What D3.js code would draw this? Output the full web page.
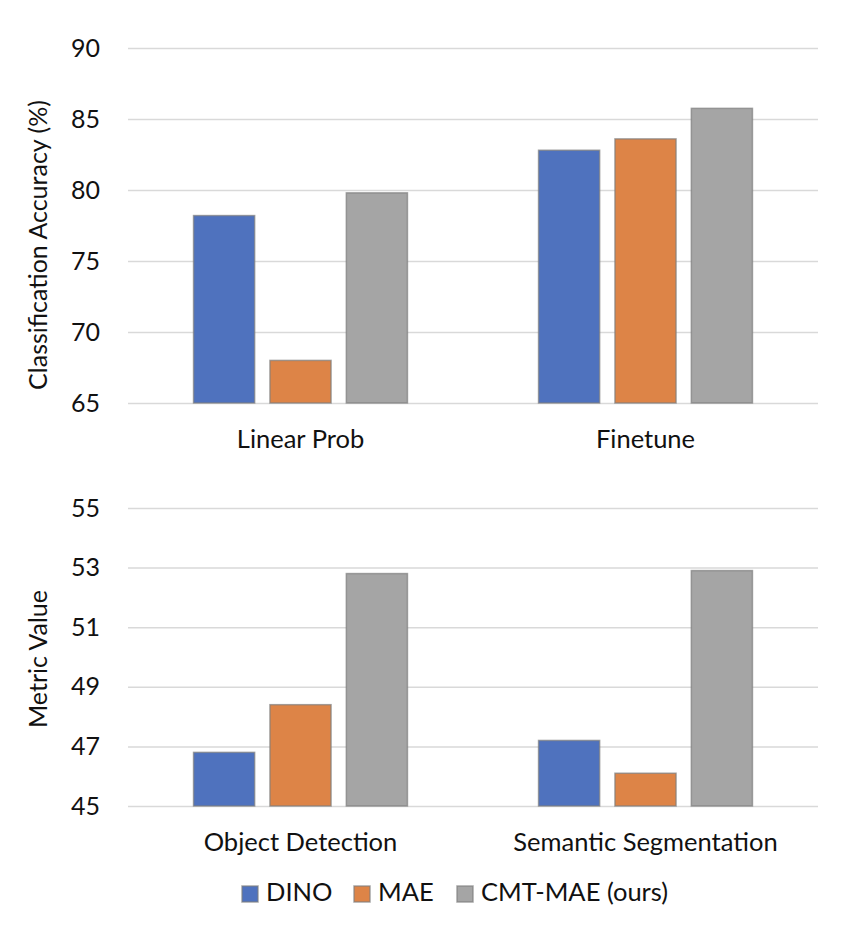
<!DOCTYPE html>
<html>
<head>
<meta charset="utf-8">
<script src="https://cdn.jsdelivr.net/npm/d3@7"></script>
<style>
  body { margin: 0; background: #fff; }
  text { font-family: Lato, "Open Sans", sans-serif; fill: #111; }
</style>
</head>
<body>
<script>
// data
var series = ['DINO', 'MAE', 'CMT-MAE (ours)'];
var colors = ['#4f72be', '#dd8447', '#a5a5a5'];

var topCats = ['Linear Prob', 'Finetune'];
var topDino = [78.2, 82.8];
var topMae = [68.0, 83.6];
var topCmt = [79.8, 85.75];
var topTicks = [65, 70, 75, 80, 85, 90];

var botCats = ['Object Detection', 'Semantic Segmentation'];
var botDino = [46.8, 47.2];
var botMae = [48.4, 46.1];
var botCmt = [52.8, 52.9];
var botTicks = [45, 47, 49, 51, 53, 55];

var svg = d3.select('body').append('svg').attr('width', 848).attr('height', 928)

function drawPanel(cats, vals, ticks, top, bottom, title, titleY) {
  var left = 128, right = 818;
  var y = d3.scaleLinear().domain([ticks[0], ticks[ticks.length - 1]]).range([bottom, top])
  var x0 = d3.scaleBand().domain(cats).range([left, right]).paddingInner(0.38).paddingOuter(0.19)
  var x1 = d3.scaleBand().domain(series).range([0, x0.bandwidth()]).paddingInner(0.2)

  var g = svg.append('g')

  // gridlines
  g.append('g')
    .attr('transform', `translate(${left},0)`)
    .call(d3.axisLeft(y).tickValues(ticks).tickSize(-(right - left)).tickFormat(''))
    .call(a => a.select('.domain').remove())
    .call(a => a.selectAll('line').attr('stroke', '#d9d9d9').attr('stroke-width', 1.5))

  // tick labels
  g.append('g')
    .attr('transform', `translate(100,0)`)
    .call(d3.axisLeft(y).tickValues(ticks).tickSize(0).tickPadding(0))
    .call(a => a.select('.domain').remove())
    .call(a => a.selectAll('text').style('font-size', '25px').attr('fill', '#111').style('font-family', 'Lato, sans-serif'))

  // bars
  var rows = cats.map((c, i) => ({cat: c, v: vals.map(s => s[i])}))
  var grp = g.selectAll('g.grp').data(rows).enter().append('g')
    .attr('class', 'grp')
    .attr('transform', d => `translate(${x0(d.cat)},0)`)
  grp.selectAll('rect')
    .data(d => d.v.map((v, j) => ({s: series[j], v: v, c: colors[j]})))
    .enter().append('rect')
      .attr('x', d => x1(d.s))
      .attr('y', d => y(d.v))
      .attr('width', x1.bandwidth())
      .attr('height', d => y(ticks[0]) - y(d.v))
      .attr('fill', d => d.c)
      .attr('stroke', '#7f7f7f')
      .attr('stroke-opacity', 0.7)
      .attr('stroke-width', 1.5)

  // category labels
  g.selectAll('text.cat').data(cats).enter().append('text')
    .attr('class', 'cat')
    .attr('x', d => x0(d) + x0.bandwidth() / 2)
    .attr('y', bottom + 45)
    .attr('text-anchor', 'middle')
    .style('font-size', '25.5px')
    .text(d => d)

  // axis title
  g.append('text')
    .attr('transform', `translate(47,${titleY}) rotate(-90)`)
    .attr('text-anchor', 'middle')
    .style('font-size', '25px')
    .text(title)
}

drawPanel(topCats, [topDino, topMae, topCmt], topTicks, 48, 403, 'Classification Accuracy (%)', 245)
drawPanel(botCats, [botDino, botMae, botCmt], botTicks, 508, 806, 'Metric Value', 659)

// legend
var legX = [242, 354, 457];
var leg = svg.selectAll('g.leg').data(series).enter().append('g')
  .attr('class', 'leg')
  .attr('transform', (d, i) => `translate(${legX[i]},886)`)
leg.append('rect')
  .attr('width', 16).attr('height', 16)
  .attr('fill', (d, i) => colors[i])
  .attr('stroke', '#7f7f7f')
  .attr('stroke-opacity', 0.7)
  .attr('stroke-width', 1.5)
leg.append('text')
  .attr('x', 24).attr('y', 15)
  .style('font-size', '25.5px')
  .text(d => d)
</script>
</body>
</html>
